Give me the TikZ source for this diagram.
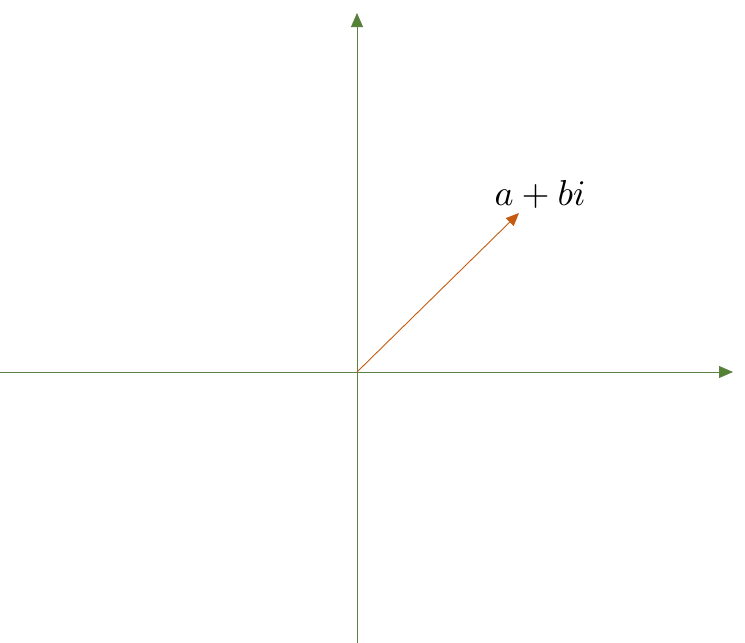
\documentclass[tikz,border=0pt]{standalone}
\usepackage{amsmath,amssymb,graphicx,tikz,xcolor}
\usetikzlibrary{arrows.meta,positioning}
\definecolor{axisgreen}{HTML}{548235}
\definecolor{vecorange}{HTML}{C55A11}

\begin{document}
\begin{tikzpicture}[x=1pt,y=-1pt,
  axis/.style={draw=axisgreen!80!gray,line width=0.9pt,-{Triangle[length=14pt,width=12pt,fill=axisgreen]}},
  vec/.style={draw=vecorange,line width=0.9pt,-{Triangle[length=13pt,width=11pt,fill=vecorange]}}]
\useasboundingbox (0,0) rectangle (745,643);
\coordinate (o) at (357,372);
\coordinate (xl) at (0,372);
\coordinate (xr) at (733,372);
\coordinate (yb) at (357,643);
\coordinate (yt) at (357,13);
\coordinate (p) at (519,213);
\draw[axis] (xl) -- (xr);
\draw[axis] (yb) -- (yt);
\draw[vec] (o) -- (p);
\node[anchor=base,inner sep=0pt] (z) at (540,205) {\scalebox{3.6}{$a+bi$}};
\end{tikzpicture}
\end{document}
